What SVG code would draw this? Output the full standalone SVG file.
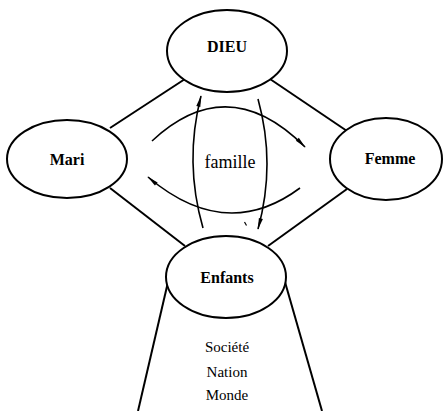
<svg xmlns="http://www.w3.org/2000/svg" width="445" height="411" viewBox="0 0 445 411">
<defs>
<style>
.node{fill:#fff;stroke:#000;stroke-width:2}
.lbl{font-family:"Liberation Serif",serif;font-weight:bold;font-size:16px;text-anchor:middle;fill:#000}
.txt{font-family:"Liberation Serif",serif;font-size:15px;text-anchor:middle;fill:#000}
.edge{fill:none;stroke:#000;stroke-width:2}
.flow{fill:none;stroke:#000;stroke-width:1.6;marker-end:url(#ah)}
</style>
<marker id="ah" viewBox="0 0 14 6" refX="13" refY="3" markerWidth="13" markerHeight="5" markerUnits="userSpaceOnUse" orient="auto">
<path d="M0,0.5 L14,3 L0,5.5 Z" fill="#000"/>
</marker>
</defs>
<rect width="445" height="411" fill="#fff"/>
<g id="connectors">
<line class="edge" x1="185" y1="79" x2="110" y2="128"/>
<line class="edge" x1="270" y1="79" x2="347" y2="131"/>
<line class="edge" x1="110" y1="188" x2="185" y2="246"/>
<line class="edge" x1="347" y1="189" x2="268" y2="246"/>
<line class="edge" x1="168" y1="282" x2="138" y2="411"/>
<line class="edge" x1="285" y1="282" x2="322" y2="411"/>
<path class="flow" d="M152,141 Q228,70 305,147"/>
<path class="flow" d="M300,188 Q226,243 148,177"/>
<path class="flow" d="M203,228 Q184,162 201,96"/>
<path class="flow" d="M258,99 Q276,164 258,229"/>
<line x1="244.5" y1="222" x2="246.5" y2="225.5" stroke="#000" stroke-width="1.2"/>
</g>
<g id="dieu">
<ellipse class="node" cx="227" cy="51" rx="60" ry="41"/>
<text class="lbl" x="227" y="52">DIEU</text>
</g>
<g id="mari">
<ellipse class="node" cx="67" cy="159" rx="60" ry="39"/>
<text class="lbl" x="67" y="165">Mari</text>
</g>
<g id="femme">
<ellipse class="node" cx="386" cy="159" rx="56" ry="41"/>
<text class="lbl" x="390" y="164">Femme</text>
</g>
<g id="enfants">
<ellipse class="node" cx="226" cy="277" rx="60" ry="41"/>
<text class="lbl" x="227" y="283">Enfants</text>
</g>
<g id="famille">
<text class="txt" x="230" y="168" style="font-size:18px">famille</text>
</g>
<g id="societe">
<text class="txt" x="227" y="352">Société</text>
<text class="txt" x="227" y="377">Nation</text>
<text class="txt" x="227" y="400">Monde</text>
</g>
</svg>
